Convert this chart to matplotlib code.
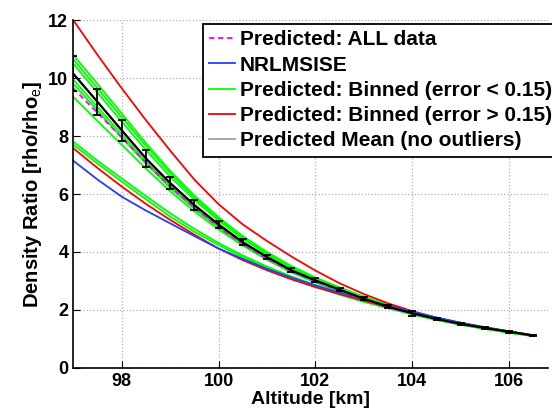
import matplotlib
matplotlib.use("Agg")
import matplotlib.pyplot as plt

plt.rcParams['font.family'] = ['Liberation Sans', 'DejaVu Sans']
plt.rcParams['mathtext.fontset'] = 'custom'
plt.rcParams['mathtext.rm'] = 'Liberation Sans'
plt.rcParams['mathtext.bf'] = 'Liberation Sans:bold'

# altitude grid [km]
alt = [97.0, 97.5, 98.0, 98.5, 99.0, 99.5, 100.0, 100.5, 101.0, 101.5,
       102.0, 102.5, 103.0, 103.5, 104.0, 104.5, 105.0, 105.5, 106.0, 106.5]

# predicted mean (no outliers) and its error bars
mean_vals = [10.15, 9.18, 8.2, 7.23, 6.38, 5.62, 4.95, 4.34, 3.83, 3.37,
             3.02, 2.70, 2.39, 2.11, 1.89, 1.69, 1.52, 1.38, 1.25, 1.12]
mean_err = [0.6, 0.45, 0.36, 0.29, 0.22, 0.16, 0.13, 0.10, 0.08, 0.07,
            0.07, 0.06, 0.06, 0.05, 0.08, 0.05, 0.04, 0.03, 0.03, 0.02]

# predicted from all data
all_data = [9.65, 8.8, 7.95, 7.08, 6.25, 5.52, 4.86, 4.27, 3.77, 3.33,
            2.98, 2.66, 2.36, 2.09, 1.87, 1.68, 1.51, 1.37, 1.24, 1.11]

# NRLMSISE model
nrlmsise = [7.15, 6.5, 5.91, 5.43, 4.99, 4.55, 4.12, 3.76, 3.42, 3.12,
            2.85, 2.6, 2.37, 2.15, 1.94, 1.74, 1.56, 1.4, 1.26, 1.12]

# binned predictions, error < 0.15
binned_good = [
    [10.8, 9.8, 8.78, 7.76, 6.8, 5.95, 5.2, 4.55, 4.0, 3.52,
     3.12, 2.78, 2.46, 2.18, 1.95, 1.74, 1.56, 1.41, 1.27, 1.13],
    [10.65, 9.65, 8.65, 7.66, 6.72, 5.88, 5.14, 4.5, 3.95, 3.47,
     3.08, 2.75, 2.44, 2.16, 1.93, 1.72, 1.55, 1.4, 1.26, 1.13],
    [10.5, 9.5, 8.5, 7.52, 6.6, 5.8, 5.08, 4.45, 3.92, 3.44,
     3.06, 2.73, 2.42, 2.14, 1.92, 1.71, 1.54, 1.39, 1.26, 1.12],
    [9.95, 9.0, 8.06, 7.12, 6.3, 5.55, 4.9, 4.3, 3.8, 3.35,
     2.99, 2.68, 2.37, 2.1, 1.88, 1.68, 1.51, 1.37, 1.24, 1.11],
    [9.8, 8.88, 7.95, 7.05, 6.22, 5.5, 4.85, 4.27, 3.77, 3.33,
     2.97, 2.66, 2.36, 2.09, 1.87, 1.67, 1.5, 1.36, 1.23, 1.1],
    [9.35, 8.52, 7.7, 6.88, 6.1, 5.4, 4.78, 4.22, 3.73, 3.3,
     2.95, 2.64, 2.34, 2.07, 1.85, 1.66, 1.49, 1.35, 1.22, 1.1],
    [7.81, 7.15, 6.54, 5.93, 5.34, 4.8, 4.31, 3.88, 3.5, 3.16,
     2.86, 2.59, 2.34, 2.11, 1.9, 1.7, 1.53, 1.38, 1.24, 1.11],
    [7.7, 7.05, 6.43, 5.82, 5.22, 4.7, 4.24, 3.82, 3.45, 3.1,
     2.8, 2.53, 2.28, 2.06, 1.85, 1.66, 1.5, 1.35, 1.22, 1.1],
]

# binned predictions, error > 0.15
binned_bad = [
    [12.0, 10.8, 9.65, 8.55, 7.5, 6.5, 5.65, 4.95, 4.38, 3.85,
     3.36, 2.92, 2.55, 2.23, 1.96, 1.73, 1.55, 1.39, 1.25, 1.12],
    [7.58, 6.9, 6.26, 5.66, 5.11, 4.6, 4.12, 3.72, 3.37, 3.06,
     2.79, 2.55, 2.32, 2.1, 1.9, 1.71, 1.54, 1.39, 1.25, 1.12],
]

fig = plt.figure(figsize=(5.52, 4.16), dpi=100)
ax = fig.add_axes([0.1326, 0.1154, 0.860, 0.8365])

lw = 1.3
for i, g in enumerate(binned_good):
    ax.plot(alt, g, color='#00ff00', lw=lw,
            label='Predicted: Binned (error < 0.15)' if i == 0 else None)
for i, r in enumerate(binned_bad):
    ax.plot(alt, r, color='#ff0000', lw=lw,
            label='Predicted: Binned (error > 0.15)' if i == 0 else None)
ax.plot(alt, nrlmsise, color='#2040ff', lw=lw, label='NRLMSISE')
ax.plot(alt, all_data, color='#ff00ff', lw=lw, ls='--', dashes=(3, 2),
        label='Predicted: ALL data')
ax.plot(alt, mean_vals, color='#a0a0a0', lw=lw,
        label='Predicted Mean (no outliers)')
ax.errorbar(alt, mean_vals, yerr=mean_err, color='black', lw=1.6,
            capsize=3.2, elinewidth=1.3, capthick=1.3)

ax.set_xlim(97, 106.8)
ax.set_ylim(0, 12)
ax.set_xticks([98, 100, 102, 104, 106])
ax.set_yticks([0, 2, 4, 6, 8, 10, 12])
ax.grid(True, ls=':', color='#b0b0b0', lw=0.9)
ax.set_axisbelow(True)
for s in ['top', 'right']:
    ax.spines[s].set_visible(False)
ax.spines['left'].set_linewidth(1.2)
ax.spines['bottom'].set_linewidth(1.2)
ax.tick_params(direction='in', length=5, labelsize=13)
for lab in ax.get_xticklabels() + ax.get_yticklabels():
    lab.set_fontweight('bold')

ax.set_xlabel('Altitude [km]', fontsize=14, fontweight='bold', labelpad=1)
ax.set_ylabel(r'Density Ratio [rho/rho$_{\mathrm{e}}$]', fontsize=14.5,
              fontweight='bold', labelpad=3)

h, l = ax.get_legend_handles_labels()
order = ['Predicted: ALL data', 'NRLMSISE', 'Predicted: Binned (error < 0.15)',
         'Predicted: Binned (error > 0.15)', 'Predicted Mean (no outliers)']
hd = dict(zip(l, h))
leg = ax.legend([hd[k] for k in order], order, loc='upper left',
                bbox_to_anchor=(0.2725, 0.988),
                prop={'weight': 'bold', 'size': 15}, frameon=True,
                fancybox=False, edgecolor='black', framealpha=1,
                handlelength=1.25, handletextpad=0.25, labelspacing=0.3,
                borderpad=0.3, borderaxespad=0)
leg.get_frame().set_linewidth(1.3)

fig.savefig('out.png', dpi=100)
